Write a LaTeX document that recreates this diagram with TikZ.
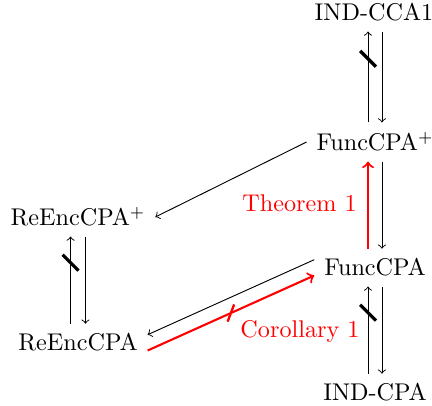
\documentclass[tikz,border=0pt]{standalone}
\usetikzlibrary{decorations.markings}
\begin{document}
\begin{tikzpicture}[x=0.43pt,y=-0.43pt,
  every node/.style={font=\fontsize{10.4pt}{12.5pt}\selectfont},
  cell/.style={anchor=base,inner sep=4.3pt,outer sep=0pt},
  lab/.style={anchor=base,text=red,inner sep=0pt},
  arr/.style={->,line width=0.4pt},
  redarr/.style={->,red,line width=0.9pt},
  slashmark/.style={postaction={decorate,decoration={markings,mark=at position #1 with {\draw[black,line width=1.4pt,-] (-3.4pt,-3.4pt) -- (3.4pt,3.4pt);}}}},
  redslash/.style={postaction={decorate,decoration={markings,mark=at position #1 with {\draw[red,line width=1pt,-] (-2.8pt,-2.8pt) -- (2.8pt,2.8pt);}}}}]
\useasboundingbox (0,0) rectangle (432,406);
\node[cell] (ic) at (374,21) {IND-CCA1};
\node[cell] (fp) at (375,151) {FuncCPA$^+$};
\node[cell] (fc) at (375,276) {FuncCPA};
\node[cell] (ip) at (375,401) {IND-CPA};
\node[cell] (rp) at (78,226) {ReEncCPA$^+$};
\node[cell] (rc) at (78,351) {ReEncCPA};
\node[lab] (th) at (299.5,212) {Theorem 1};
\node[lab] (co) at (300,338) {Corollary 1};
% right column
\draw[arr,slashmark=0.7] ([xshift=-3pt]fp.north) -- ([xshift=-3pt]fp.north |- ic.south);
\draw[arr] ([xshift=3pt]fp.north |- ic.south) -- ([xshift=3pt]fp.north);
\draw[redarr] ([xshift=-3pt]fc.north) -- ([xshift=-3pt]fp.south);
\draw[arr] ([xshift=3pt]fp.south) -- ([xshift=3pt]fc.north);
\draw[arr,slashmark=0.7] ([xshift=-3pt]ip.north) -- ([xshift=-3pt]fc.south);
\draw[arr] ([xshift=3pt]fc.south) -- ([xshift=3pt]ip.north);
% left column
\draw[arr,slashmark=0.7] ([xshift=-3.2pt]rc.north) -- ([xshift=-3.2pt]rp.south);
\draw[arr] ([xshift=3.2pt]rp.south) -- ([xshift=3.2pt]rc.north);
% diagonals
\draw[arr] (fp.west) -- (rp.east);
\draw[arr] ([yshift=3.4pt]fc.west) -- ([yshift=3.4pt]rc.east);
\draw[redarr,redslash=0.5] ([yshift=-3.4pt]rc.east) -- ([yshift=-3.4pt]fc.west);
\end{tikzpicture}
\end{document}
